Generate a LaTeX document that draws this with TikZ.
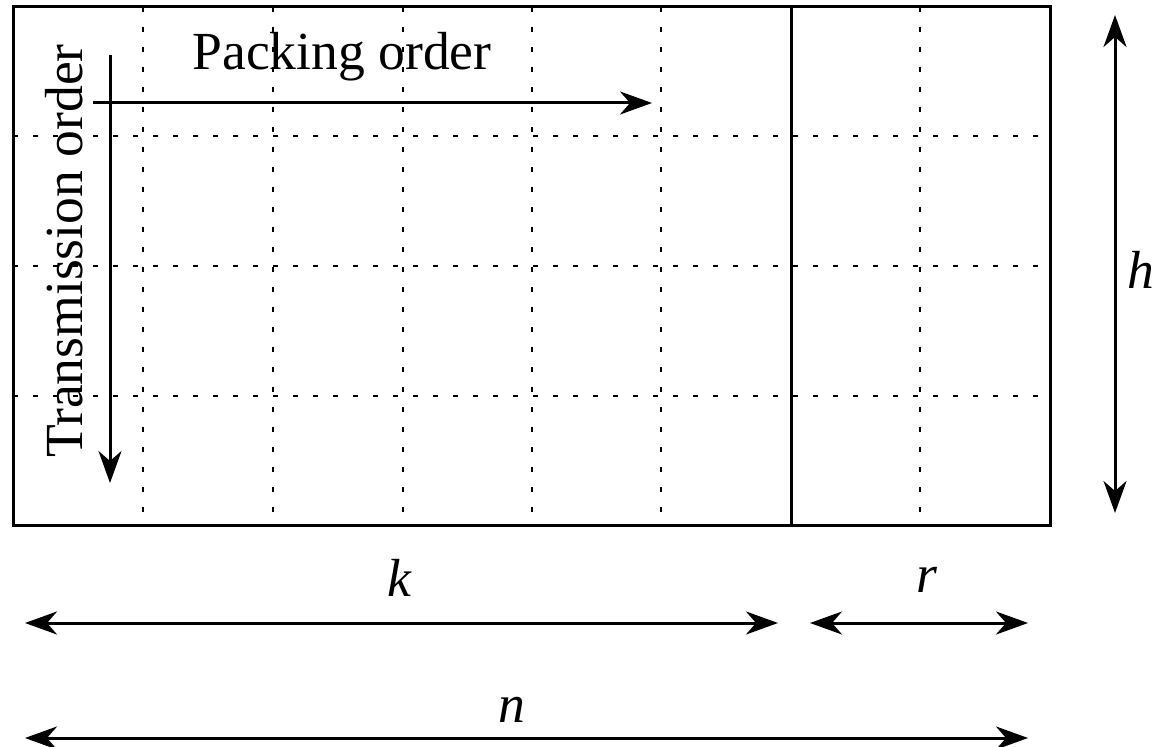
\documentclass[tikz,border=0pt]{standalone}
\usepackage{fontspec}
\setmainfont{Liberation Serif}
\usetikzlibrary{arrows.meta}
\begin{document}
\begin{tikzpicture}[x=0.5pt,y=-0.5pt,
  frame/.style={line width=1.5pt},
  gridline/.style={line width=1.4pt,dash pattern=on 2.5pt off 7.5pt},
  arr/.style={line width=1.5pt,-{Stealth[length=16pt,width=11.5pt,inset=5pt]}},
  dim/.style={line width=1.5pt,{Stealth[length=16pt,width=11.5pt,inset=5pt]}-{Stealth[length=16pt,width=11.5pt,inset=5pt]}},
  lbl/.style={font=\fontsize{26.8}{32}\selectfont, inner sep=0pt}]
\path[use as bounding box] (0,0) rectangle (1159,747);
% dotted grid
\foreach \x in {143,273,403,532,661,920}
  \draw[gridline] (\x,7) -- (\x,525);
\foreach \y in {136,266,396}
  \draw[gridline] (13,\y) -- (1050,\y);
% frame
\draw[frame] (13,7) rectangle (1050,525);
\draw[frame] (791,7) -- (791,525);
% order arrows
\coordinate (ps) at (93,103);
\coordinate (pe) at (652,103);
\coordinate (ts) at (110,55);
\coordinate (te) at (110,483);
\draw[arr] (ps) -- (pe);
\draw[arr] (ts) -- (te);
\node[lbl] (pack) at (342,57) {Packing order};
\node[lbl, rotate=90] (trans) at (64,251) {Transmission order};
% dimension arrows
\coordinate (h1) at (1115,15);
\coordinate (h2) at (1115,513);
\draw[dim] (h1) -- (h2);
\node[lbl] (hl) at (1141,270) {\textit{h}};
\coordinate (k1) at (25,623);
\coordinate (k2) at (778,623);
\draw[dim] (k1) -- (k2);
\node[lbl] (kl) at (400,578) {\textit{k}};
\coordinate (r1) at (810,623);
\coordinate (r2) at (1028,623);
\draw[dim] (r1) -- (r2);
\node[lbl] (rl) at (927,580) {\textit{r}};
\coordinate (n1) at (25,738);
\coordinate (n2) at (1028,738);
\draw[dim] (n1) -- (n2);
\node[lbl] (nl) at (512,710) {\textit{n}};
\end{tikzpicture}
\end{document}
